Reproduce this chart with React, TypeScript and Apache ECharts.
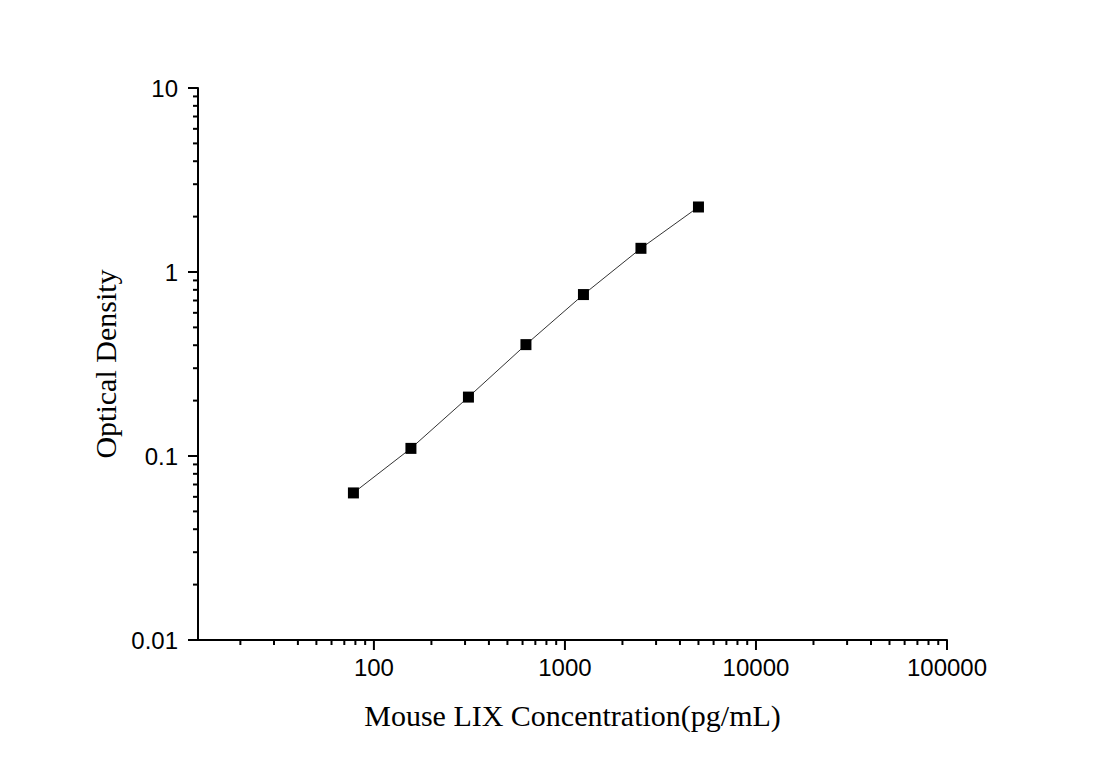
import { useEffect, useRef } from 'react';
import * as echarts from 'echarts';

// standard curve readings
const concentrations = [78.125, 156.25, 312.5, 625, 1250, 2500, 5000];
const opticalDensity = [0.063, 0.11, 0.209, 0.403, 0.754, 1.345, 2.256];

// axis ranges and tick positions
const X_MIN = 12;
const X_MAX = 100000;
const Y_MIN = 0.01;
const Y_MAX = 10;
const xMajorTicks = [100, 1000, 10000, 100000];
const xMinorTicks = [
  20, 30, 40, 50, 60, 70, 80, 90,
  200, 300, 400, 500, 600, 700, 800, 900,
  2000, 3000, 4000, 5000, 6000, 7000, 8000, 9000,
  20000, 30000, 40000, 50000, 60000, 70000, 80000, 90000,
];
const yMinorTicks = [
  0.02, 0.03, 0.04, 0.05, 0.06, 0.07, 0.08, 0.09,
  0.2, 0.3, 0.4, 0.5, 0.6, 0.7, 0.8, 0.9,
  2, 3, 4, 5, 6, 7, 8, 9,
];

const SANS = "Arial, 'Liberation Sans', sans-serif";
const SERIF = "'Times New Roman', 'Liberation Serif', serif";

export default function App() {
  const chartRef = useRef<HTMLDivElement>(null);

  useEffect(() => {
    if (!chartRef.current) return;
    const chart = echarts.init(chartRef.current, undefined, { renderer: 'svg' });

    const option: any = {
      animation: false,
      backgroundColor: '#fff',
      grid: {
        left: 198,
        right: 153,
        top: 88,
        bottom: 128,
        containLabel: false,
        outerBoundsMode: 'none',
      },
      xAxis: {
        type: 'log',
        logBase: 10,
        min: X_MIN,
        max: X_MAX,
        name: 'Mouse LIX Concentration(pg/mL)',
        nameLocation: 'middle',
        nameGap: 60,
        nameTextStyle: { fontFamily: SERIF, fontSize: 30, color: '#000' },
        axisLine: { show: true, onZero: false, lineStyle: { color: '#000', width: 2 } },
        axisTick: { show: false },
        minorTick: { show: false },
        splitLine: { show: false },
        axisLabel: {
          showMinLabel: false,
          margin: 15,
          fontFamily: SANS,
          fontSize: 24,
          color: '#000',
          formatter: (v: number) => String(Math.round(v)),
        },
      },
      yAxis: {
        type: 'log',
        logBase: 10,
        min: Y_MIN,
        max: Y_MAX,
        name: 'Optical Density',
        nameLocation: 'middle',
        nameGap: 67,
        nameTextStyle: { fontFamily: SERIF, fontSize: 30, color: '#000' },
        axisLine: { show: true, onZero: false, lineStyle: { color: '#000', width: 2 } },
        axisTick: { show: true, inside: false, length: 10, lineStyle: { color: '#000', width: 2 } },
        minorTick: { show: false },
        splitLine: { show: false },
        axisLabel: {
          margin: 20,
          fontFamily: SANS,
          fontSize: 24,
          color: '#000',
          formatter: (v: number) => String(v),
        },
      },
      series: [
        {
          type: 'line',
          data: concentrations.map((c, i) => [c, opticalDensity[i]]),
          symbol: 'rect',
          symbolSize: 11,
          itemStyle: { color: '#000' },
          lineStyle: { color: '#333', width: 1 },
          silent: true,
          z: 3,
        },
        {
          // x-axis ticks, major and minor, hung below the axis line
          type: 'custom',
          silent: true,
          clip: false,
          data: [
            ...xMajorTicks.map((v) => [v, Y_MIN, 1]),
            ...xMinorTicks.map((v) => [v, Y_MIN, 0]),
          ],
          renderItem: (_params: any, api: any) => {
            const p = api.coord([api.value(0), api.value(1)]);
            const len = api.value(2) ? 10 : 5;
            return {
              type: 'line',
              shape: { x1: p[0], y1: p[1], x2: p[0], y2: p[1] + len },
              style: { stroke: '#000', lineWidth: 2 },
            };
          },
        },
        {
          // y-axis minor ticks
          type: 'custom',
          silent: true,
          clip: false,
          data: yMinorTicks.map((v) => [X_MIN, v]),
          renderItem: (_params: any, api: any) => {
            const p = api.coord([api.value(0), api.value(1)]);
            return {
              type: 'line',
              shape: { x1: p[0], y1: p[1], x2: p[0] - 5, y2: p[1] },
              style: { stroke: '#000', lineWidth: 2 },
            };
          },
        },
      ],
    };

    chart.setOption(option);

    return () => {
      chart.dispose();
    };
  }, []);

  return (
    <div
      ref={chartRef}
      style={{ position: 'absolute', left: 0, top: 0, width: 1100, height: 768 }}
    />
  );
}
